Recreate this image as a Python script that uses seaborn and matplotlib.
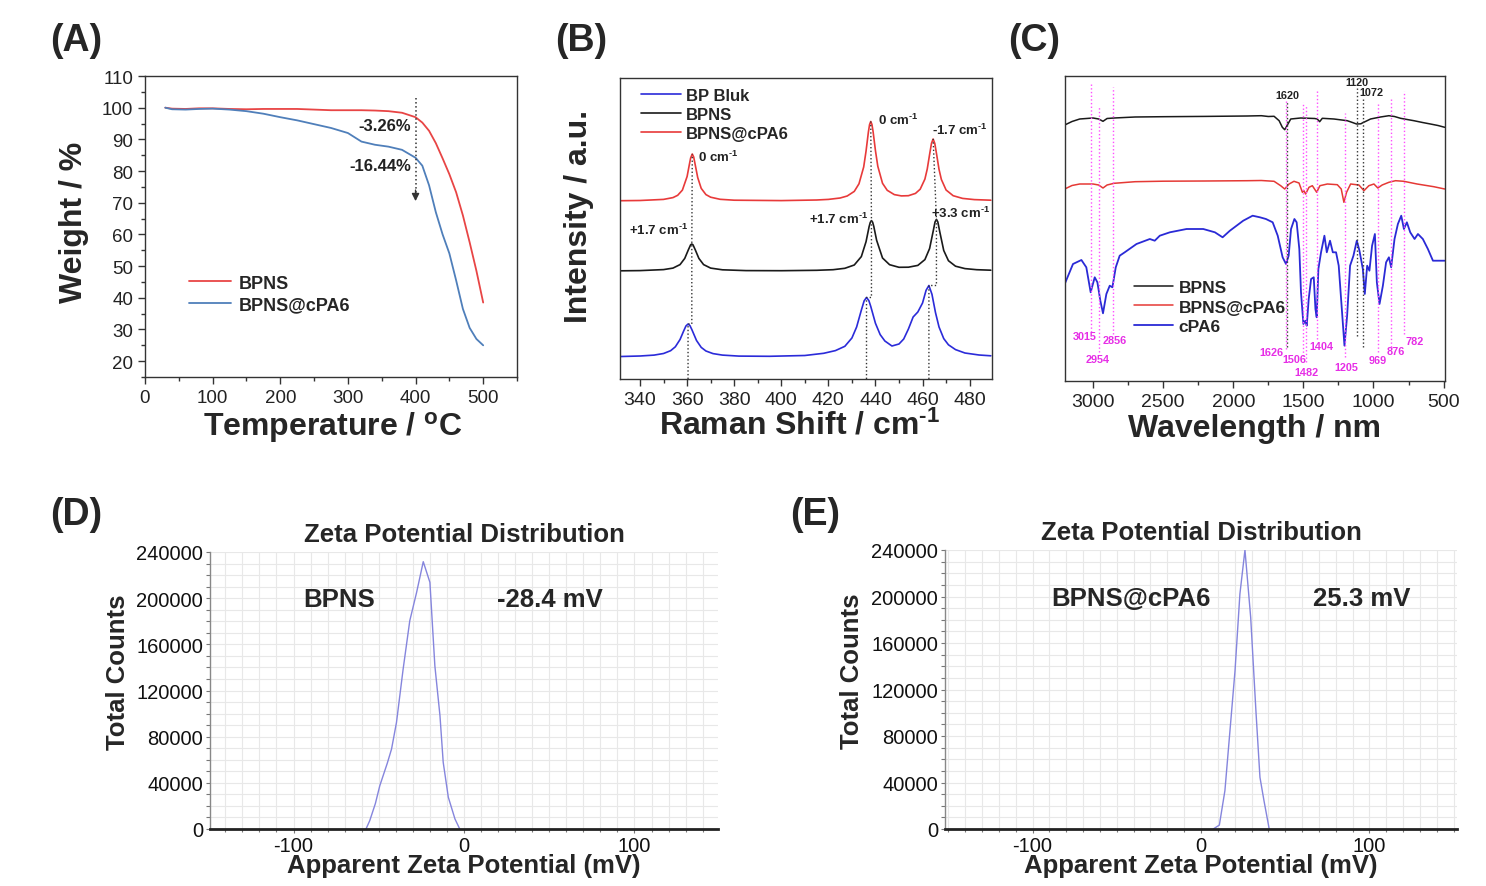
import numpy as np
import matplotlib
matplotlib.use("Agg")
import matplotlib.pyplot as plt
import seaborn as sns
from matplotlib.ticker import MultipleLocator, FuncFormatter

# =====================================================
# DATA
# =====================================================

# (A) TGA
tga_temp = [30, 40, 60, 80, 100, 125, 150, 175, 200, 225, 250, 275, 300, 320, 340,
            360, 380, 400, 410, 420, 430, 440, 450, 460, 470, 480, 490, 500]
tga_bpns = [100, 99.7, 99.6, 99.8, 99.8, 99.6, 99.5, 99.6, 99.6, 99.6, 99.4, 99.2, 99.2, 99.2, 99.1,
            98.9, 98.4, 97.0, 95.3, 92.7, 88.8, 84.0, 79.0, 73.3, 66.0, 57.5, 48.5, 38.5]
tga_bpns_cpa6 = [100, 99.5, 99.4, 99.6, 99.7, 99.4, 98.9, 98.1, 97.0, 96.0, 94.8, 93.6, 92.0, 89.3, 88.3,
                 87.7, 86.7, 84.2, 81.7, 75.5, 67.0, 60.0, 54.0, 45.5, 36.5, 30.5, 27.0, 25.0]
tga_arrow_temp = 400
tga_losses = ["-3.26%", "-16.44%"]

# (B) Raman (intensity in arbitrary units)
raman_cpa6_x = [332, 340, 350, 354, 356, 358, 360, 361, 361.5, 362.2, 362.8, 363.5, 364.5, 366, 368,
                370, 374, 380, 400, 415, 420, 425, 428, 431, 433, 435, 436, 437, 437.5, 438,
                438.5, 439, 440, 441, 443, 445, 448, 451, 454, 457, 459, 461, 462, 463, 463.8,
                464.5, 465.2, 466, 467, 468, 470, 473, 477, 482, 489]
raman_cpa6_y = [178.3, 178.5, 179.6, 181.4, 183.7, 188.9, 202.5, 215, 221, 225, 222, 213.6, 201.5, 190.6, 184.4,
                181.8, 179.7, 178.8, 178.4, 179, 179.6, 181, 183, 187.6, 195.2, 212, 227.8, 247, 254.4, 257.5,
                254.6, 247.3, 228.3, 212.7, 195.7, 188.7, 184.4, 183.1, 183.3, 185.6, 189.8, 199.9, 210, 224.6, 235.7,
                240, 235.6, 224.3, 209.6, 199.5, 189, 183.3, 180.6, 179.4, 178.8]
raman_bpns_x = [332, 340, 350, 354, 357, 359, 360.5, 361.5, 362, 362.5, 363.5, 365, 367, 370, 375,
                385, 400, 415, 422, 427, 431, 434, 436, 437.3, 437.8, 438.3, 438.8, 439.3, 440.5, 443,
                446, 450, 454, 458, 461, 463, 464.5, 465.3, 465.9, 466.5, 467.3, 469, 471, 474, 478,
                483, 489]
raman_bpns_y = [108.2, 108.4, 109.4, 110.9, 114.4, 120.6, 129, 134.2, 135, 134.2, 129, 120.6, 114.4, 110.9, 109.2,
                108.4, 108.3, 108.7, 109.3, 110.7, 114, 122.4, 137.3, 152.3, 156.6, 158.4, 156.8, 152.5, 138.7, 121,
                114.3, 111.7, 111.8, 113.6, 119.4, 130.5, 147.6, 157, 159.6, 157, 147.4, 128.5, 118.3, 112.8, 110.4,
                109.3, 108.8]
raman_bulk_x = [332, 340, 346, 350, 353, 355, 357, 358.5, 359.5, 360.4, 361.2, 362, 364, 366, 368,
                371, 375, 382, 395, 410, 418, 423, 427, 430, 432, 434, 435.2, 436.2, 437.2, 438,
                440, 442, 444, 447, 450, 452, 454, 456, 458, 460, 461.5, 462.7, 464, 465.5, 467,
                469, 471, 474, 478, 484, 489]
raman_bulk_y = [22.5, 23, 23.9, 25.5, 28.3, 32.2, 39.5, 47.8, 53, 55, 53.4, 49.5, 38.5, 31.6, 28,
                25.4, 23.9, 22.9, 22.7, 23.5, 25.7, 28.4, 32.7, 41, 52, 68.8, 78.2, 81.5, 78.4, 72.6,
                55.7, 44.4, 38, 33, 35, 40, 50, 62, 67, 76, 88.7, 93.5, 84.7, 66.4, 52,
                40.4, 34.2, 29.4, 26, 24, 23.2]
raman_peaks_bulk = [360.4, 436.2, 462.7]
raman_peaks_bpns = [362.0, 438.3, 465.9]
raman_peaks_cpa6 = [362.2, 438.0, 464.5]
raman_notes = ["+1.7 cm$^{\\text{-1}}$", "+1.7 cm$^{\\text{-1}}$", "+3.3 cm$^{\\text{-1}}$",
               "0 cm$^{\\text{-1}}$", "0 cm$^{\\text{-1}}$", "-1.7 cm$^{\\text{-1}}$"]

# (C) FTIR
ftir_bpns_x = [3202, 3150, 3095, 3000, 2960, 2929, 2900, 2850, 2700, 2500, 2200, 1900, 1800, 1750,
               1709, 1673, 1650, 1633, 1614, 1590, 1519, 1420, 1401, 1384, 1365, 1282, 1187, 1150,
               1121, 1090, 1080, 1050, 1021, 950, 890, 850, 807, 760, 712, 650, 594, 540, 492]
ftir_bpns_y = [256, 259.5, 262, 263, 262, 259.7, 262.5, 263, 264, 264.3, 264.6, 265, 265.3, 264.5,
               264.7, 260.3, 253.7, 251.3, 256, 262, 263, 262.5, 262, 259.3, 262.7, 262, 260.3, 258.5,
               257, 257.2, 258, 260, 262, 264, 265.3, 264.5, 262.7, 261.5, 260.3, 258.5, 257, 255.5, 253.7]
ftir_cpa6_bp_x = [3202, 3150, 3095, 3000, 2960, 2929, 2900, 2850, 2700, 2500, 2200, 1900, 1800, 1709,
                  1662, 1633, 1602, 1567, 1531, 1507, 1496, 1484, 1460, 1436, 1405, 1382, 1329, 1258,
                  1230, 1211, 1192, 1163, 1104, 1068, 1033, 997, 969, 938, 890, 843, 784, 689, 570, 492]
ftir_cpa6_bp_y = [192, 195.5, 197, 197, 196, 193, 196, 197.7, 199.3, 199.8, 200, 200.3, 200.5, 199.7,
                  195.3, 192, 197, 199.7, 198, 188.7, 190.3, 187, 193.7, 195.3, 188.7, 195.3, 197, 196.3,
                  192, 178.7, 188.7, 197, 196, 190.3, 195.3, 197, 193, 196, 198.7, 200.3, 199.7, 197, 194.3, 192]
ftir_cpa6_x = [3202, 3143, 3083, 3048, 3017, 2988, 2969, 2948, 2929, 2905, 2881, 2862, 2838, 2810,
               2774, 2690, 2595, 2560, 2524, 2452, 2333, 2214, 2131, 2076, 2024, 1929, 1862, 1810,
               1767, 1719, 1683, 1648, 1624, 1605, 1588, 1564, 1548, 1529, 1517, 1500, 1486, 1476,
               1462, 1445, 1426, 1414, 1405, 1393, 1374, 1350, 1333, 1310, 1290, 1267, 1248, 1231,
               1207, 1188, 1167, 1143, 1119, 1100, 1076, 1062, 1045, 1029, 1010, 990, 976, 957,
               933, 910, 890, 874, 850, 826, 802, 783, 762, 738, 707, 683, 648, 612, 576, 552, 492]
ftir_cpa6_y = [97, 117, 121, 113.7, 88.7, 103.7, 98.7, 80.3, 67.7, 87, 95.3, 93.7, 113.7, 125.3,
               128.7, 137, 142, 140.3, 145.3, 148.7, 152, 152, 148.7, 143.7, 150.3, 160.3, 165.3, 163.7,
               162, 158.7, 145.3, 123.7, 117, 125.3, 152, 162, 158.7, 132, 88.7, 57, 60.3, 55.3,
               82, 102, 103.7, 72, 63.7, 112, 128.7, 145.3, 128.7, 140.3, 128.7, 128.7, 115.3, 82,
               35.3, 65.3, 115.3, 125.3, 140.3, 130.3, 112, 87, 115.3, 110.3, 135.3, 147, 98.7, 77,
               95.3, 118.7, 123.7, 113.7, 142, 157, 165.3, 152, 158.7, 148.7, 142, 147, 142, 132, 120.3, 120.3, 120.3]
ftir_pink_bands = [3015, 2954, 2856, 1626, 1506, 1482, 1404, 1205, 969, 876, 782]
ftir_pink_top = [298.7, 273.7, 293.7, 280.3, 278.7, 276, 290.3, 268, 279.3, 282.7, 290.3]
ftir_pink_bottom = [48.7, 28.7, 47, 32, 25.3, 18.7, 42, 23.7, 28.7, 33.7, 47]
ftir_black_bands = [1620, 1120, 1072]
ftir_black_top = [280.3, 293.7, 283.7]
ftir_black_bottom = [33.7, 45.3, 33.7]

# (D)/(E) zeta potential
zeta_bpns_mv = [-57.5, -55.3, -52, -49.4, -45, -42.5, -39.6, -35.7, -31.8, -27.8, -23.9, -20,
                -17.1, -14.1, -12.2, -9.2, -5.3, -2.5]
zeta_bpns_counts = [0, 7200, 22000, 37500, 57000, 69300, 92400, 138600, 180500, 205000, 231600, 213700,
                    141500, 98200, 57800, 27500, 8700, 0]
zeta_cpa6_mv = [7.3, 10.9, 14.2, 17.2, 20.2, 23.1, 26.1, 29.5, 32.6, 35.0, 37.4, 40.5]
zeta_cpa6_counts = [0, 3400, 33000, 84600, 136200, 202200, 240000, 182000, 101800, 44500, 24300, 0]
zeta_samples = ["BPNS", "BPNS@cPA6"]
zeta_means = ["-28.4 mV", "25.3 mV"]

# =====================================================
# STYLE
# =====================================================

sns.set_style("ticks")
plt.rcParams["font.family"] = ["Liberation Sans", "DejaVu Sans"]
plt.rcParams["axes.unicode_minus"] = False
plt.rcParams["mathtext.fontset"] = "custom"
plt.rcParams["mathtext.rm"] = "Liberation Sans:bold"
plt.rcParams["mathtext.it"] = "Liberation Sans:bold"
plt.rcParams["mathtext.bf"] = "Liberation Sans:bold"

SPINE = "#333333"
PINK = "#ff4dff"
PINK_TXT = "#e62ee6"


def frame(ax, labelsize):
    for s in ax.spines.values():
        s.set_color(SPINE)
        s.set_linewidth(1.0)
    ax.tick_params(which="both", direction="out", color=SPINE, width=1.0,
                   labelsize=labelsize, labelcolor="#222222")
    ax.tick_params(which="major", length=5)
    ax.tick_params(which="minor", length=3)


# =====================================================
# PANELS
# =====================================================

def draw_tga(ax):
    sns.lineplot(x=tga_temp, y=tga_bpns, ax=ax, color="#e84545", linewidth=1.3, label="BPNS")
    sns.lineplot(x=tga_temp, y=tga_bpns_cpa6, ax=ax, color="#4f7fba", linewidth=1.3, label="BPNS@cPA6")
    ax.set_xlim(0, 550)
    ax.set_ylim(15, 110)
    ax.xaxis.set_major_locator(MultipleLocator(100))
    ax.xaxis.set_minor_locator(MultipleLocator(50))
    ax.yaxis.set_major_locator(MultipleLocator(10))
    ax.yaxis.set_minor_locator(MultipleLocator(5))
    frame(ax, 13.5)

    # dotted arrow at the onset temperature
    ax.plot([tga_arrow_temp, tga_arrow_temp], [103, 73], ls=":", color="#333333", lw=1.1)
    ax.annotate("", xy=(tga_arrow_temp, 70.5), xytext=(tga_arrow_temp, 74),
                arrowprops=dict(arrowstyle="-|>", color="#333333", lw=1, mutation_scale=11,
                                shrinkA=0, shrinkB=0))
    ax.text(tga_arrow_temp - 7, 94.3, tga_losses[0], ha="right", va="center",
            fontsize=12, weight="bold", color="#222222")
    ax.text(tga_arrow_temp - 7, 81.9, tga_losses[1], ha="right", va="center",
            fontsize=12, weight="bold", color="#222222")

    ax.legend(loc="upper left", bbox_to_anchor=(0.095, 0.37), frameon=False, borderpad=0,
              handlelength=2.3, handletextpad=0.45, labelspacing=0.28,
              prop={"weight": "bold", "size": 13})
    ax.set_xlabel("Temperature / $^{\\mathrm{o}}$C", fontsize=23, weight="bold")
    ax.set_ylabel("Weight / %", fontsize=23, weight="bold")
    ax.xaxis.set_label_coords(0.505, -0.105)
    ax.yaxis.set_label_coords(-0.15, 0.518)


def draw_raman(ax):
    sns.lineplot(x=raman_bulk_x, y=raman_bulk_y, ax=ax, color="#2b2bd9", linewidth=1.2, label="BP Bluk")
    sns.lineplot(x=raman_bpns_x, y=raman_bpns_y, ax=ax, color="#1a1a1a", linewidth=1.2, label="BPNS")
    sns.lineplot(x=raman_cpa6_x, y=raman_cpa6_y, ax=ax, color="#e83a3a", linewidth=1.2, label="BPNS@cPA6")
    ax.set_xlim(331.5, 489.5)
    ax.set_ylim(0, 301)
    ax.set_yticks([])
    ax.xaxis.set_major_locator(MultipleLocator(20))
    ax.xaxis.set_minor_locator(MultipleLocator(10))
    frame(ax, 14)

    # dotted guides linking the peak positions of the three spectra
    for b, k, r in zip(raman_peaks_bulk, raman_peaks_bpns, raman_peaks_cpa6):
        hb = np.interp(b, raman_bulk_x, raman_bulk_y)
        hk = np.interp(k, raman_bpns_x, raman_bpns_y)
        hr = np.interp(r, raman_cpa6_x, raman_cpa6_y)
        ax.plot([b, b, k, k, r], [0, hb, hb, hk, hr], ls=":", color="#333333", lw=1.0)

    note_pos = [(360.3, 150, "right"), (436.8, 161, "right"), (463.6, 167, "left"),
                (364.8, 223, "left"), (441, 260, "left"), (464.2, 250, "left")]
    for txt, (x, y, ha) in zip(raman_notes, note_pos):
        ax.text(x, y, txt, ha=ha, va="center", fontsize=9.5, weight="bold", color="#222222")

    ax.legend(loc="upper left", bbox_to_anchor=(0.035, 0.995), frameon=False, borderpad=0,
              handlelength=2.4, handletextpad=0.3, labelspacing=0.25,
              prop={"weight": "bold", "size": 12})
    ax.set_xlabel("Raman Shift / cm$^{\\text{-1}}$", fontsize=23, weight="bold")
    ax.set_ylabel("Intensity / a.u.", fontsize=23, weight="bold")
    ax.xaxis.set_label_coords(0.484, -0.1)
    ax.yaxis.set_label_coords(-0.07, 0.545)


def draw_ftir(ax):
    sns.lineplot(x=ftir_bpns_x, y=ftir_bpns_y, ax=ax, color="#1a1a1a", linewidth=1.1,
                 label="BPNS", sort=False)
    sns.lineplot(x=ftir_cpa6_bp_x, y=ftir_cpa6_bp_y, ax=ax, color="#e53935", linewidth=1.1,
                 label="BPNS@cPA6", sort=False)
    sns.lineplot(x=ftir_cpa6_x, y=ftir_cpa6_y, ax=ax, color="#2a2ad6", linewidth=1.3,
                 label="cPA6", sort=False)
    ax.set_xlim(3200, 490)
    ax.set_ylim(0, 305)
    ax.set_yticks([])
    ax.xaxis.set_major_locator(MultipleLocator(500))
    ax.xaxis.set_minor_locator(MultipleLocator(250))
    frame(ax, 14)

    for x, t, b in zip(ftir_pink_bands, ftir_pink_top, ftir_pink_bottom):
        ax.plot([x, x], [b, t], ls=":", color=PINK, lw=1.0)
    for x, t, b in zip(ftir_black_bands, ftir_black_top, ftir_black_bottom):
        ax.plot([x, x], [b, t], ls=":", color="#333333", lw=1.0)

    pink_pos = [(3060, 45.3), (2964, 22), (2845, 41), (1731, 29), (1564, 22), (1481, 9.3),
                (1374, 35.3), (1195, 13.7), (969, 21.3), (838, 29.7), (707, 40.3)]
    for band, (x, y) in zip(ftir_pink_bands, pink_pos):
        ax.text(x, y, str(band), ha="center", va="center", fontsize=7.8, weight="bold", color=PINK_TXT)
    black_pos = [(1614, 286), (1121, 299.3), (1016, 288.7)]
    for band, (x, y) in zip(ftir_black_bands, black_pos):
        ax.text(x, y, str(band), ha="center", va="center", fontsize=7.8, weight="bold", color="#222222")

    ax.legend(loc="upper left", bbox_to_anchor=(0.16, 0.36), frameon=False, borderpad=0,
              handlelength=2.2, handletextpad=0.35, labelspacing=0.25,
              prop={"weight": "bold", "size": 12.5})
    ax.set_xlabel("Wavelength / nm", fontsize=23, weight="bold")
    ax.xaxis.set_label_coords(0.5, -0.105)


def draw_zeta(ax, mv, counts, sample, mean, xlim, sample_x, mean_x):
    sns.lineplot(x=mv, y=counts, ax=ax, color="#8585dd", linewidth=1.0, sort=False)
    ax.set_xlim(*xlim)
    ax.set_ylim(0, 240000)
    ax.xaxis.set_major_locator(MultipleLocator(100))
    ax.xaxis.set_minor_locator(MultipleLocator(10))
    ax.yaxis.set_major_locator(MultipleLocator(40000))
    ax.yaxis.set_minor_locator(MultipleLocator(10000))
    ax.yaxis.set_major_formatter(FuncFormatter(lambda v, p: f"{int(v)}"))
    ax.grid(which="both", color="#e8e8e8", lw=0.8)
    ax.set_axisbelow(True)
    ax.spines["top"].set_visible(False)
    ax.spines["right"].set_visible(False)
    ax.spines["bottom"].set_linewidth(2.0)
    ax.spines["bottom"].set_color("#222222")
    ax.spines["left"].set_linewidth(1.0)
    ax.spines["left"].set_color("#888888")
    ax.tick_params(which="both", direction="out", length=3, width=0.8, color="#777777",
                   labelsize=14.5, labelcolor="#111111", pad=2)
    ax.tick_params(axis="x", which="minor", length=2)

    ax.text(sample_x, 199000, sample, ha="center", va="center", fontsize=18.5, weight="bold")
    ax.text(mean_x, 199000, mean, ha="center", va="center", fontsize=18.5, weight="bold")
    ax.set_title("Zeta Potential Distribution", fontsize=18.5, weight="bold", pad=8)
    ax.set_xlabel("Apparent Zeta Potential (mV)", fontsize=18.5, weight="bold")
    ax.set_ylabel("Total Counts", fontsize=18.5, weight="bold")
    ax.xaxis.set_label_coords(0.5, -0.085)
    ax.yaxis.set_label_coords(-0.158, 0.57)


# =====================================================
# FIGURE
# =====================================================

W, H = 1486, 887
fig = plt.figure(figsize=(W / 100, H / 100), dpi=100)


def box(left, top, right, bottom):
    return [left / W, 1 - bottom / H, (right - left) / W, (bottom - top) / H]


ax_a = fig.add_axes(box(145, 77, 517, 378))
ax_b = fig.add_axes(box(620, 79, 992, 380))
ax_c = fig.add_axes(box(1065, 77, 1445, 382))
ax_d = fig.add_axes(box(210, 553, 718, 830))
ax_e = fig.add_axes(box(945, 551, 1457, 830))

draw_tga(ax_a)
draw_raman(ax_b)
draw_ftir(ax_c)
draw_zeta(ax_d, zeta_bpns_mv, zeta_bpns_counts, zeta_samples[0], zeta_means[0],
          (-149, 149), -73, 50.6)
draw_zeta(ax_e, zeta_cpa6_mv, zeta_cpa6_counts, zeta_samples[1], zeta_means[1],
          (-152, 152), -41.5, 95.5)

for letter, (px, py) in zip("ABCDE", [(50, 41), (555, 41), (1008, 41), (50, 515), (790, 515)]):
    fig.text(px / W, 1 - py / H, f"({letter})", fontsize=27, weight="bold", ha="left", va="center")

fig.savefig("out.png", dpi=100)
